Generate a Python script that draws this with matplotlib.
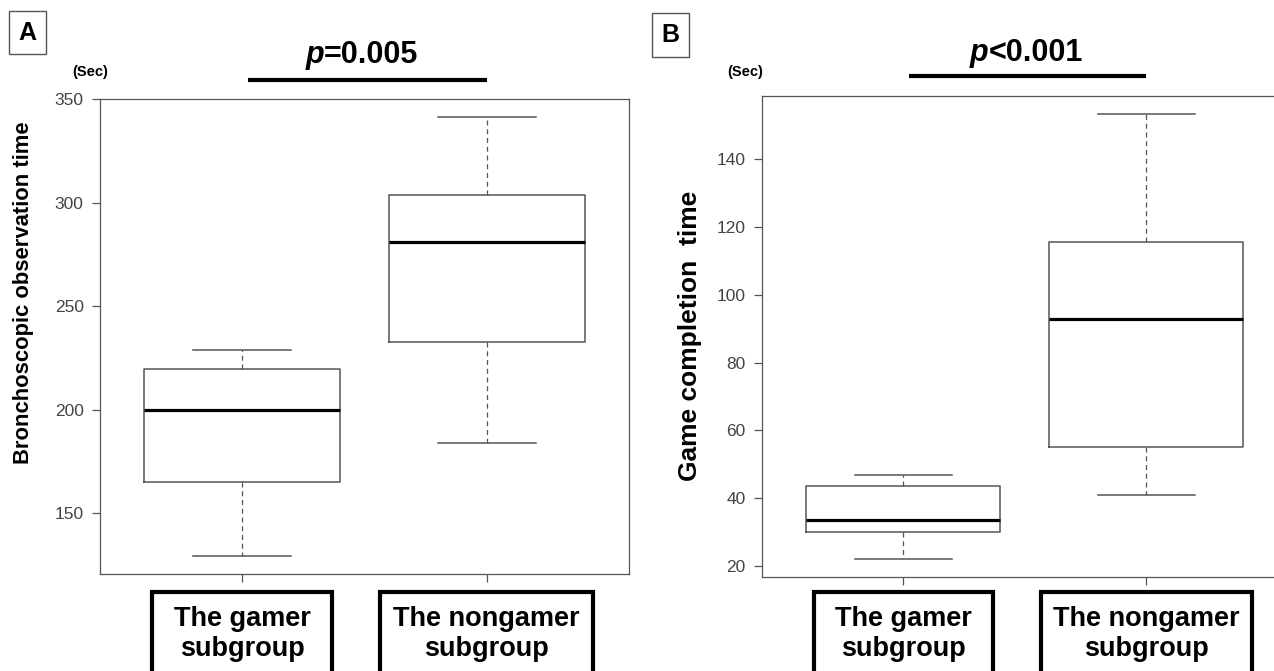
import matplotlib
matplotlib.use("Agg")
import matplotlib.pyplot as plt
from matplotlib.patches import Rectangle
from matplotlib import transforms

# -----------------------------
# Data
# -----------------------------
groups = ["The gamer\nsubgroup", "The nongamer\nsubgroup"]

# lower whisker, Q1, median, Q3, upper whisker (sec)
bronch_gamer = [129.3, 165.0, 199.7, 219.8, 229.0]
bronch_nongamer = [183.9, 232.6, 281.3, 304.0, 341.6]
game_gamer = [22.1, 30.0, 33.5, 43.5, 46.9]
game_nongamer = [41.0, 55.1, 93.0, 115.6, 153.5]

ticks_a = [150, 200, 250, 300, 350]
ticks_b = [20, 40, 60, 80, 100, 120, 140]

p_text_a = "=0.005"
p_text_b = "<0.001"

# -----------------------------
# Layout helpers (pixel -> figure fraction)
# -----------------------------
W, H = 1274, 671
BOLD = ["Liberation Sans", "DejaVu Sans"]
NARROW = ["Liberation Sans Narrow", "Liberation Sans", "DejaVu Sans"]
GRAY = "#555555"


def fx(px):
    return px / W


def fy(py):
    return 1 - py / H


def make_stats(summary, label):
    lo, q1, med, q3, hi = summary
    return dict(whislo=lo, q1=q1, med=med, q3=q3, whishi=hi, fliers=[], label=label)


fig = plt.figure(figsize=(W / 100, H / 100), dpi=100)


def draw_panel(left, right, top, bottom, summaries, ticks, ylabel, ylabel_size,
               ylabel_xy, p_text, p_y, p_split, bar_y, letter, letter_box, sec_xy):
    ax = fig.add_axes([fx(left), fy(bottom), fx(right - left), fy(top) - fy(bottom)])
    stats = [make_stats(s, g) for s, g in zip(summaries, groups)]
    ax.bxp(stats, positions=[1, 2], widths=0.8, showfliers=False,
           boxprops=dict(color=GRAY, linewidth=1.1),
           medianprops=dict(color="black", linewidth=2.3),
           whiskerprops=dict(color=GRAY, linewidth=0.9, linestyle=(0, (4, 3))),
           capprops=dict(color=GRAY, linewidth=1.1),
           capwidths=0.4)

    lows = [s[0] for s in summaries]
    highs = [s[4] for s in summaries]
    span = max(highs) - min(lows)
    ax.set_ylim(min(lows) - 0.04 * span, max(highs) + 0.04 * span)
    ax.set_xlim(0.42, 2.58)

    ax.set_yticks(ticks)
    ax.set_xticks([1, 2])
    ax.set_xticklabels([])
    ax.tick_params(axis="both", length=6, width=0.9, color=GRAY, direction="out")
    ax.tick_params(axis="y", pad=6, labelsize=12.5, labelcolor="#444444")
    for lab in ax.get_yticklabels():
        lab.set_family(NARROW)
    for sp in ax.spines.values():
        sp.set_color(GRAY)
        sp.set_linewidth(0.9)

    fig.text(fx(ylabel_xy[0]), fy(ylabel_xy[1]), ylabel, rotation=90,
             ha="center", va="center", fontsize=ylabel_size,
             fontweight="bold", family=BOLD)

    # group labels in thick boxes below the axis
    tr = transforms.blended_transform_factory(ax.transData, fig.transFigure)
    box_top = fy(592.3)
    for pos, g, w in zip([1, 2], groups, [0.735, 0.87]):
        ax.add_patch(Rectangle((pos - w / 2, -0.05), w, box_top + 0.05,
                               transform=tr, fill=False, edgecolor="black",
                               linewidth=3, clip_on=False))
        ax.text(pos, fy(634), g, transform=tr, ha="center", va="center",
                fontsize=19.5, fontweight="bold", family=BOLD, linespacing=1.2)

    # significance bar and p value
    ax.plot([1.022, 2.0], [fy(bar_y)] * 2, transform=tr, color="black",
            linewidth=3, solid_capstyle="butt", clip_on=False)
    ax.text(p_split, fy(p_y), "p", transform=tr, ha="right", va="center",
            fontsize=22, fontweight="bold", fontstyle="italic", family=BOLD)
    ax.text(p_split, fy(p_y), p_text, transform=tr, ha="left", va="center",
            fontsize=22, fontweight="bold", family=BOLD)

    fig.text(fx(sec_xy[0]), fy(sec_xy[1]), "(Sec)", ha="center", va="center",
             fontsize=10.5, fontweight="bold", family=NARROW)

    x0, x1, y0, y1 = letter_box
    fig.patches.append(Rectangle((fx(x0), fy(y1)), fx(x1 - x0), fy(y0) - fy(y1),
                                 transform=fig.transFigure, fill=False,
                                 edgecolor=GRAY, linewidth=1.0))
    fig.text(fx((x0 + x1) / 2), fy((y0 + y1) / 2), letter, ha="center", va="center",
             fontsize=18, fontweight="bold", family=BOLD)
    return ax


draw_panel(100.4, 628.6, 99.3, 573.7, [bronch_gamer, bronch_nongamer], ticks_a,
           "Bronchoscopic observation time", 15.8, (24, 293),
           p_text_a, 55, 1.334, 80.3, "A", (9, 45.7, 10.7, 54.3), (89.8, 71.7))

draw_panel(762.5, 1287, 95.7, 576.7, [game_gamer, game_nongamer], ticks_b,
           "Game completion  time", 19, (690.5, 336),
           p_text_b, 53.3, 1.35, 75.7, "B", (652.1, 689.3, 12.7, 56.7), (745.1, 71.7))

fig.savefig("out.png", dpi=100)
